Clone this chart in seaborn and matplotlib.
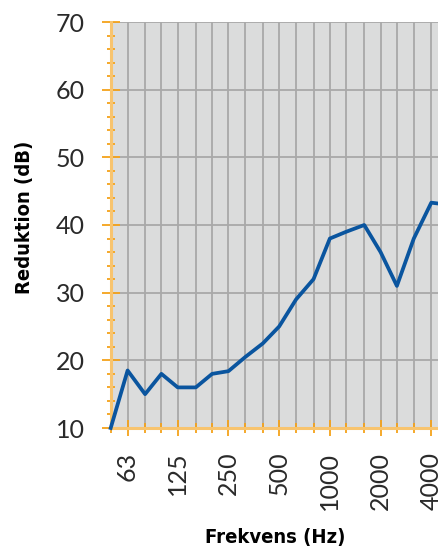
import matplotlib
matplotlib.use("Agg")
import matplotlib.pyplot as plt
import matplotlib.ticker as mticker
import pandas as pd
import seaborn as sns

# Third-octave band centre frequencies (Hz) and measured sound reduction (dB)
freqs = [50, 63, 80, 100, 125, 160, 200, 250, 315, 400, 500, 630, 800,
         1000, 1250, 1600, 2000, 2500, 3150, 4000, 5000]
reduction = [10, 18.5, 15, 18, 16, 16, 18, 18.4, 20.5, 22.5, 25, 29, 32,
             38, 39, 40, 36, 31, 38, 43.3, 43]
labelled = [63, 125, 250, 500, 1000, 2000, 4000]
label_text = ["63", "125", "250", "500", "1000", "2000", "4000"]

df = pd.DataFrame({"Frekvens": freqs, "Reduktion": reduction})

orange = "#f5a31a"
orange_light = "#f8c46e"
grid_col = "#a9a9a9"
text_col = "#2a2a2a"
tick_font = ["Lato", "DejaVu Sans"]

fig = plt.figure(figsize=(4.38, 5.49), dpi=100)
ax = fig.add_axes([110.7 / 438, 1 - 428 / 549, (447.6 - 110.7) / 438, (428 - 22) / 549])
ax.set_facecolor("#dbdcdc")

sns.lineplot(data=df, x="Frekvens", y="Reduktion", ax=ax, color="#0a559f",
             linewidth=2.7, zorder=5, clip_on=False)

ax.set_xscale("log")
ax.set_xlim(50, 5000)
ax.set_ylim(10, 70)

# x ticks: every band, labelled octaves carry longer marks
ax.xaxis.set_major_locator(mticker.FixedLocator(labelled))
ax.xaxis.set_major_formatter(mticker.FixedFormatter(label_text))
ax.xaxis.set_minor_locator(mticker.FixedLocator([f for f in freqs if f not in labelled]))
ax.xaxis.set_minor_formatter(mticker.NullFormatter())

ax.yaxis.set_major_locator(mticker.MultipleLocator(10))
ax.yaxis.set_minor_locator(mticker.MultipleLocator(2))

ax.grid(True, which="both", axis="x", color=grid_col, linewidth=1.3, zorder=1)
ax.grid(True, which="major", axis="y", color=grid_col, linewidth=1.3, zorder=1)
ax.set_axisbelow(True)

for side in ("top", "right"):
    ax.spines[side].set_visible(False)
for side in ("left", "bottom"):
    ax.spines[side].set_color(orange_light)
    ax.spines[side].set_linewidth(2.2)

ax.tick_params(axis="both", which="both", direction="inout", color=orange)
ax.tick_params(axis="y", which="major", length=13, width=1.3, pad=12)
ax.tick_params(axis="y", which="minor", length=6, width=1.3)
ax.tick_params(axis="x", which="major", length=12, width=1.3, pad=11)
ax.tick_params(axis="x", which="minor", length=7, width=1.3)

for lab in ax.get_yticklabels() + ax.get_xticklabels():
    lab.set_fontfamily(tick_font)
    lab.set_fontweight(400)
    lab.set_fontsize(18)
    lab.set_color(text_col)
for lab in ax.get_xticklabels():
    lab.set_rotation(90)
    lab.set_va("top")
    lab.set_ha("center")

ax.set_xlabel("")
ax.set_ylabel("")
fig.text(275.5 / 438, 1 - 537 / 549, "Frekvens (Hz)", ha="center", va="center",
         fontsize=14.5, fontweight="bold", fontstretch="condensed", color="black",
         family="DejaVu Sans")
fig.text(25 / 438, 1 - 217 / 549, "Reduktion (dB)", ha="center", va="center",
         rotation=90, fontsize=14.5, fontweight="bold", fontstretch="condensed",
         color="black", family="DejaVu Sans")

fig.savefig("out.png", dpi=100)
